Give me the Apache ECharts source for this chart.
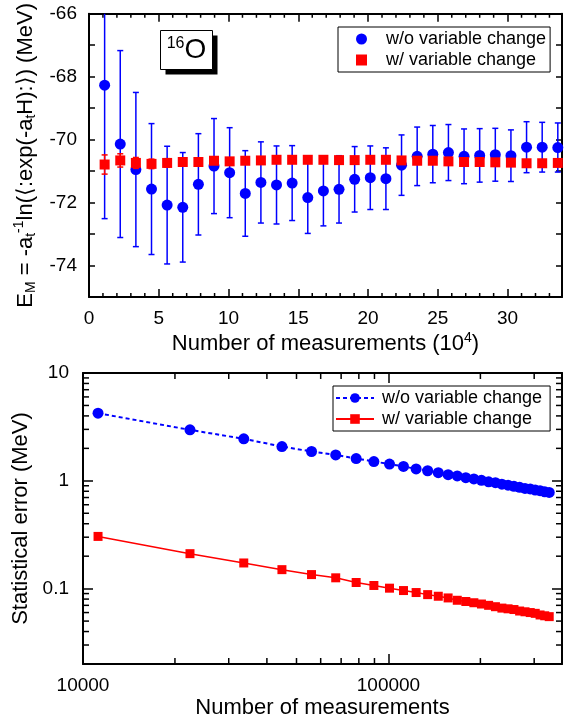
<!DOCTYPE html>
<html>
<head>
<meta charset="utf-8">
<script src="https://cdn.jsdelivr.net/npm/echarts@6/dist/echarts.min.js"></script>
<style>
  html, body { margin: 0; padding: 0; background: #fff; }
  #main { width: 576px; height: 724px; }
</style>
</head>
<body>
<div id="main"></div>
<script>
// number of measurements at each step
var counts = [11200, 22400, 33600, 44800, 56000, 67200, 78400, 89600, 100800, 112000,
  123200, 134400, 145600, 156800, 168000, 179200, 190400, 201600, 212800, 224000,
  235200, 246400, 257600, 268800, 280000, 291200, 302400, 313600, 324800, 336000];

// E_M without variable change (MeV) and its statistical error
var noChangeE = [-68.27, -70.14, -70.95, -71.57, -72.08, -72.15, -71.42, -70.84, -71.05, -71.71,
  -71.36, -71.44, -71.38, -71.84, -71.63, -71.58, -71.26, -71.21, -71.24, -70.81,
  -70.53, -70.46, -70.41, -70.53, -70.50, -70.48, -70.51, -70.24, -70.24, -70.25];
var noChangeErr = [4.24, 2.97, 2.45, 2.08, 1.87, 1.74, 1.61, 1.51, 1.43, 1.36,
  1.29, 1.24, 1.19, 1.14, 1.11, 1.07, 1.04, 1.01, 0.98, 0.96,
  0.93, 0.91, 0.89, 0.87, 0.85, 0.84, 0.82, 0.81, 0.79, 0.78];

// E_M with variable change (MeV) and its statistical error
var changeE = [-70.79, -70.66, -70.74, -70.77, -70.74, -70.71, -70.71, -70.67, -70.69, -70.67,
  -70.66, -70.64, -70.64, -70.64, -70.64, -70.65, -70.65, -70.64, -70.64, -70.66,
  -70.67, -70.67, -70.69, -70.71, -70.71, -70.72, -70.73, -70.75, -70.75, -70.74];
var changeErr = [0.305, 0.211, 0.173, 0.150, 0.135, 0.126, 0.114, 0.107, 0.101, 0.096,
  0.092, 0.088, 0.085, 0.082, 0.078, 0.076, 0.074, 0.072, 0.070, 0.068,
  0.066, 0.065, 0.064, 0.062, 0.061, 0.060, 0.059, 0.057, 0.056, 0.055];

// minor tick values
var topMinorX = [1, 2, 3, 4, 6, 7, 8, 9, 11, 12, 13, 14, 16, 17, 18, 19, 21, 22, 23, 24, 26, 27, 28, 29, 31, 32, 33];
var botMinorX = [20000, 30000, 40000, 50000, 60000, 70000, 80000, 90000, 200000, 300000];
var botMinorY = [0.03, 0.04, 0.05, 0.06, 0.07, 0.08, 0.09, 0.2, 0.3, 0.4, 0.5, 0.6, 0.7, 0.8, 0.9,
  2, 3, 4, 5, 6, 7, 8, 9];

var topX = [0, 33.9], topY = [-75, -66];
var botX = [10000, 370000], botY = [0.02, 10];

var FONT = 'Liberation Sans, Arial, sans-serif';
var BLUE = '#0000ff', RED = '#ff0000';

var myChart = echarts.init(document.getElementById('main'));

function pairs(xs, ys, scale) {
  return xs.map(function (x, i) { return [x / scale, ys[i]]; });
}
function triples(xs, ys, es, scale) {
  return xs.map(function (x, i) { return [x / scale, ys[i], es[i]]; });
}

// error bars drawn through the axes
function errorBars(name, color, data, z) {
  return {
    type: 'custom', name: name + '_err', xAxisIndex: 0, yAxisIndex: 0, z: z, silent: true,
    data: data,
    renderItem: function (params, api) {
      var x = api.value(0), c = api.value(1), e = api.value(2);
      var top = Math.min(c + e, topY[1]);
      var lo = api.coord([x, c - e]), hi = api.coord([x, top]);
      var st = { stroke: color, lineWidth: 1.5 };
      var kids = [
        { type: 'line', shape: { x1: lo[0], y1: lo[1], x2: hi[0], y2: hi[1] }, style: st },
        { type: 'line', shape: { x1: lo[0] - 3, y1: lo[1], x2: lo[0] + 3, y2: lo[1] }, style: st }
      ];
      if (top === c + e) {
        kids.push({ type: 'line', shape: { x1: hi[0] - 3, y1: hi[1], x2: hi[0] + 3, y2: hi[1] }, style: st });
      }
      return { type: 'group', children: kids };
    }
  };
}

// minor ticks on all four sides
function minorTicks(xi, yi, xs, ys, xr, yr, len) {
  var data = [];
  xs.forEach(function (v) { data.push([v, yr[0], 0]); });
  ys.forEach(function (v) { data.push([xr[0], v, 1]); });
  return {
    type: 'custom', xAxisIndex: xi, yAxisIndex: yi, z: 1, silent: true, data: data,
    renderItem: function (params, api) {
      var st = { stroke: '#000', lineWidth: 1.5 };
      var a, b;
      if (api.value(2) === 0) {
        a = api.coord([api.value(0), yr[0]]);
        b = api.coord([api.value(0), yr[1]]);
        return { type: 'group', children: [
          { type: 'line', shape: { x1: a[0], y1: a[1], x2: a[0], y2: a[1] - len }, style: st },
          { type: 'line', shape: { x1: b[0], y1: b[1], x2: b[0], y2: b[1] + len }, style: st }
        ] };
      }
      a = api.coord([xr[0], api.value(1)]);
      b = api.coord([xr[1], api.value(1)]);
      return { type: 'group', children: [
        { type: 'line', shape: { x1: a[0], y1: a[1], x2: a[0] + len, y2: a[1] }, style: st },
        { type: 'line', shape: { x1: b[0], y1: b[1], x2: b[0] - len, y2: b[1] }, style: st }
      ] };
    }
  };
}

function axisBase(extra) {
  var o = {
    axisLine: { show: true, onZero: false, lineStyle: { color: '#000', width: 2 } },
    axisTick: { show: true, inside: true, length: 8, lineStyle: { color: '#000', width: 1.5 } },
    axisLabel: { show: false, color: '#000', fontSize: 19, fontFamily: FONT, margin: 12 },
    splitLine: { show: false },
    nameTextStyle: { color: '#000', fontSize: 22, fontFamily: FONT }
  };
  for (var k in extra) o[k] = extra[k];
  return o;
}

var isDecade = function (v) {
  var l = Math.log(v) / Math.LN10;
  return Math.abs(l - Math.round(l)) < 1e-6 ? String(v) : '';
};

var subRich = {
  s: { fontSize: 14, lineHeight: 14, verticalAlign: 'bottom', fontFamily: FONT, color: '#000' },
  p: { fontSize: 14, lineHeight: 14, verticalAlign: 'top', fontFamily: FONT, color: '#000' }
};

var option = {
  backgroundColor: '#fff',
  animation: false,
  grid: [
    { left: 89, top: 10, width: 473, height: 287 },
    { left: 83, top: 373, width: 479, height: 291 }
  ],
  xAxis: [
    axisBase({ gridIndex: 0, type: 'value', position: 'bottom', min: topX[0], max: topX[1], interval: 5,
      axisLabel: { show: true, color: '#000', fontSize: 19, fontFamily: FONT, margin: 12, showMaxLabel: false },
      name: 'Number of measurements (10{p|4})', nameLocation: 'middle', nameGap: 34,
      nameTextStyle: { color: '#000', fontSize: 22, fontFamily: FONT, lineHeight: 26, rich: subRich } }),
    axisBase({ gridIndex: 0, type: 'value', position: 'top', min: topX[0], max: topX[1], interval: 5 }),
    axisBase({ gridIndex: 1, type: 'log', position: 'bottom', min: botX[0], max: botX[1],
      axisTick: { show: true, inside: true, length: 10, lineStyle: { color: '#000', width: 1.5 } },
      axisLabel: { show: true, color: '#000', fontSize: 19, fontFamily: FONT, margin: 12,
        showMaxLabel: false, formatter: isDecade },
      name: 'Number of measurements', nameLocation: 'middle', nameGap: 33 }),
    axisBase({ gridIndex: 1, type: 'log', position: 'top', min: botX[0], max: botX[1],
      axisTick: { show: true, inside: true, length: 10, lineStyle: { color: '#000', width: 1.5 } } })
  ],
  yAxis: [
    axisBase({ gridIndex: 0, type: 'value', position: 'left', min: topY[0], max: topY[1], interval: 1,
      axisTick: { show: true, inside: true, length: 6, lineStyle: { color: '#000', width: 1.5 } },
      axisLabel: { show: true, color: '#000', fontSize: 19, fontFamily: FONT, margin: 12,
        formatter: function (v) { return v % 2 === 0 ? String(v) : ''; } },
      name: 'E{s|M} = -a{s|t}{p|-1}ln(\u27e8:exp(-a{s|t}H):\u27e9) (MeV)', nameLocation: 'middle', nameGap: 48,
      nameTextStyle: { color: '#000', fontSize: 22, fontFamily: FONT, lineHeight: 26, rich: subRich } }),
    axisBase({ gridIndex: 0, type: 'value', position: 'right', min: topY[0], max: topY[1], interval: 1,
      axisTick: { show: true, inside: true, length: 6, lineStyle: { color: '#000', width: 1.5 } } }),
    axisBase({ gridIndex: 1, type: 'log', position: 'left', min: botY[0], max: botY[1],
      axisTick: { show: true, inside: true, length: 10, lineStyle: { color: '#000', width: 1.5 } },
      axisLabel: { show: true, color: '#000', fontSize: 19, fontFamily: FONT, margin: 14,
        showMinLabel: false, formatter: isDecade },
      name: 'Statistical error (MeV)', nameLocation: 'middle', nameGap: 47 }),
    axisBase({ gridIndex: 1, type: 'log', position: 'right', min: botY[0], max: botY[1],
      axisTick: { show: true, inside: true, length: 10, lineStyle: { color: '#000', width: 1.5 } } })
  ],
  legend: [
    {
      left: 338, top: 27, orient: 'vertical', selectedMode: false,
      data: ['w/o variable change', 'w/ variable change'],
      itemWidth: 11, itemHeight: 11, itemGap: 3,
      padding: [3, 4, 3, 18], borderColor: '#000', borderWidth: 1, backgroundColor: '#fff',
      textStyle: { color: '#000', fontSize: 18, fontFamily: FONT, padding: [0, 0, 0, 14] }
    },
    {
      left: 333, top: 386, orient: 'vertical', selectedMode: false,
      data: ['w/o variable change ', 'w/ variable change '],
      itemWidth: 38, itemHeight: 12, itemGap: 3,
      padding: [3, 3, 3, 2], borderColor: '#000', borderWidth: 1, backgroundColor: '#fff',
      textStyle: { color: '#000', fontSize: 18, fontFamily: FONT, padding: [0, 0, 0, 3] }
    }
  ],
  graphic: [{
    type: 'group', left: 160, top: 30,
    children: [
      { type: 'rect', shape: { x: 5, y: 5, width: 52, height: 39 }, style: { fill: '#000' } },
      { type: 'rect', shape: { x: 0, y: 0, width: 52, height: 39 }, style: { fill: '#fff', stroke: '#000', lineWidth: 1 } },
      { type: 'text', x: 26, y: 20, style: {
        text: '{a|16}{b|O}', align: 'center', verticalAlign: 'middle',
        rich: {
          a: { fontSize: 16, lineHeight: 15, verticalAlign: 'top', fontFamily: FONT, fill: '#000' },
          b: { fontSize: 28, lineHeight: 30, fontFamily: FONT, fill: '#000' }
        }
      } }
    ]
  }],
  series: [
    minorTicks(0, 0, topMinorX, [], topX, topY, 4),
    minorTicks(2, 2, botMinorX, botMinorY, botX, botY, 6),
    errorBars('w/o variable change', BLUE, triples(counts, noChangeE, noChangeErr, 1e4), 2),
    {
      name: 'w/o variable change', type: 'scatter', xAxisIndex: 0, yAxisIndex: 0, z: 3,
      symbol: 'circle', symbolSize: 11, itemStyle: { color: BLUE, opacity: 1 },
      data: pairs(counts, noChangeE, 1e4)
    },
    errorBars('w/ variable change', RED, triples(counts, changeE, changeErr, 1e4), 4),
    {
      name: 'w/ variable change', type: 'scatter', xAxisIndex: 0, yAxisIndex: 0, z: 5,
      symbol: 'rect', symbolSize: 10, itemStyle: { color: RED, opacity: 1 },
      data: pairs(counts, changeE, 1e4)
    },
    {
      name: 'w/o variable change ', type: 'line', xAxisIndex: 2, yAxisIndex: 2, z: 3,
      symbol: 'circle', symbolSize: 11, itemStyle: { color: BLUE },
      lineStyle: { color: BLUE, width: 2, type: [4, 3] },
      data: pairs(counts, noChangeErr, 1)
    },
    {
      name: 'w/ variable change ', type: 'line', xAxisIndex: 2, yAxisIndex: 2, z: 3,
      symbol: 'rect', symbolSize: 9, itemStyle: { color: RED },
      lineStyle: { color: RED, width: 1.5 },
      data: pairs(counts, changeErr, 1)
    }
  ]
};
myChart.setOption(option);
</script>
</body>
</html>
